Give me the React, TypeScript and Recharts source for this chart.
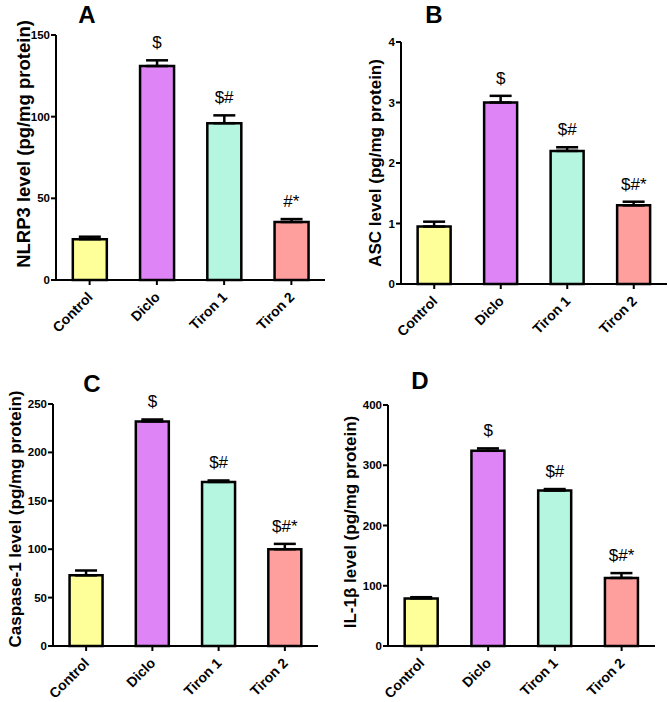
import {
  ComposedChart,
  Bar,
  Line,
  XAxis,
  YAxis,
  ErrorBar,
  Cell,
  LabelList,
} from "recharts";

const categories = ["Control", "Diclo", "Tiron 1", "Tiron 2"];
const barColors = ["#ffff99", "#df84f7", "#b4f6df", "#ff9f9d"];

const nlrp3Values = [25, 131, 96, 35.5];
const nlrp3Errors = [1.5, 3.5, 4.8, 1.8];
const nlrp3Notes = ["", "$", "$#", "#*"];
const nlrp3Ticks = [0, 50, 100, 150];

const ascValues = [0.95, 3.0, 2.2, 1.3];
const ascErrors = [0.08, 0.11, 0.06, 0.06];
const ascNotes = ["", "$", "$#", "$#*"];
const ascTicks = [0, 1, 2, 3, 4];

const caspaseValues = [73, 232, 169.5, 100];
const caspaseErrors = [5, 2, 1.5, 5.5];
const caspaseNotes = ["", "$", "$#", "$#*"];
const caspaseTicks = [0, 50, 100, 150, 200, 250];

const il1bValues = [79, 324, 258, 113];
const il1bErrors = [2, 4, 2.5, 8];
const il1bNotes = ["", "$", "$#", "$#*"];
const il1bTicks = [0, 100, 200, 300, 400];

const font = "Arial, 'Liberation Sans', sans-serif";

const buildRows = (values: number[], errors: number[], notes: string[]) =>
  categories.map((name, i) => ({
    name,
    value: values[i],
    err: [0, errors[i]],
    top: values[i] + errors[i],
    note: notes[i],
  }));

const XTick = (props: any) => {
  const { x, y, payload } = props;
  const tx = x + 4;
  const ty = y + 11;
  return (
    <text
      x={tx}
      y={ty}
      textAnchor="end"
      transform={`rotate(-45, ${tx}, ${ty})`}
      fontSize={14}
      fontWeight="bold"
      fontFamily={font}
      fill="#000"
    >
      {payload.value}
    </text>
  );
};

type PanelProps = {
  letter: string;
  title: string;
  left: number;
  top: number;
  width: number;
  height: number;
  marginTop: number;
  marginRight: number;
  yWidth: number;
  xHeight: number;
  ticks: number[];
  rows: ReturnType<typeof buildRows>;
  titleX: number;
  titleY: number;
  titleSize: number;
  letterX: number;
  letterY: number;
};

const Panel = (p: PanelProps) => {
  return (
    <div style={{ position: "absolute", left: p.left, top: p.top, width: p.width, height: p.height }}>
      <ComposedChart
        width={p.width}
        height={p.height}
        data={p.rows}
        margin={{ top: p.marginTop, right: p.marginRight, left: 0, bottom: 0 }}
        barCategoryGap="25%"
        style={{ overflow: "visible" }}
      >
        <XAxis
          dataKey="name"
          height={p.xHeight}
          interval={0}
          axisLine={{ stroke: "#000", strokeWidth: 2 }}
          tickLine={{ stroke: "#000", strokeWidth: 2 }}
          tickSize={5}
          tick={<XTick />}
        />
        <YAxis
          width={p.yWidth}
          domain={[0, p.ticks[p.ticks.length - 1]]}
          ticks={p.ticks}
          interval={0}
          axisLine={{ stroke: "#000", strokeWidth: 2 }}
          tickLine={{ stroke: "#000", strokeWidth: 2 }}
          tickSize={5}
          tickMargin={1}
          tick={{ fontSize: 11.5, fontWeight: "bold", fill: "#000", fontFamily: font }}
          label={{
            content: () => (
              <text
                x={p.titleX}
                y={p.titleY}
                textAnchor="middle"
                dominantBaseline="central"
                transform={`rotate(-90, ${p.titleX}, ${p.titleY})`}
                fontSize={p.titleSize}
                fontWeight="bold"
                fontFamily={font}
                fill="#000"
              >
                {p.title}
              </text>
            ),
          }}
        />
        <Bar dataKey="value" stroke="#000" strokeWidth={2.5} isAnimationActive={false}>
          {p.rows.map((r, i) => (
            <Cell key={r.name} fill={barColors[i]} />
          ))}
          <ErrorBar dataKey="err" direction="y" width={11} stroke="#000" strokeWidth={2.5} />
        </Bar>
        <Line
          dataKey="top"
          stroke="none"
          dot={false}
          activeDot={false}
          isAnimationActive={false}
        >
          <LabelList
            dataKey="note"
            content={(lp: any) => (
              <text
                x={lp.x}
                y={lp.y - 12}
                textAnchor="middle"
                fontSize={17}
                fontFamily={font}
                fill="#000"
              >
                {lp.value}
              </text>
            )}
          />
        </Line>
      </ComposedChart>
      <div
        style={{
          position: "absolute",
          left: p.letterX - 15,
          top: p.letterY - 22,
          width: 30,
          textAlign: "center",
          fontFamily: font,
          fontWeight: "bold",
          fontSize: 24,
          lineHeight: "24px",
        }}
      >
        {p.letter}
      </div>
    </div>
  );
};

export default function App() {
  return (
    <div style={{ position: "absolute", left: 0, top: 0, width: 669, height: 702, background: "#fff" }}>
      <Panel
        letter="A"
        title="NLRP3 level (pg/mg protein)"
        left={0}
        top={0}
        width={335}
        height={351}
        marginTop={35}
        marginRight={10}
        yWidth={56}
        xHeight={71}
        ticks={nlrp3Ticks}
        rows={buildRows(nlrp3Values, nlrp3Errors, nlrp3Notes)}
        titleX={23}
        titleY={144}
        titleSize={18.5}
        letterX={87}
        letterY={25}
      />
      <Panel
        letter="B"
        title="ASC level (pg/mg protein)"
        left={335}
        top={0}
        width={334}
        height={351}
        marginTop={42}
        marginRight={2}
        yWidth={66}
        xHeight={67}
        ticks={ascTicks}
        rows={buildRows(ascValues, ascErrors, ascNotes)}
        titleX={40}
        titleY={163}
        titleSize={17}
        letterX={99}
        letterY={25}
      />
      <Panel
        letter="C"
        title="Caspase-1 level (pg/mg protein)"
        left={0}
        top={351}
        width={335}
        height={351}
        marginTop={53}
        marginRight={17}
        yWidth={53}
        xHeight={56}
        ticks={caspaseTicks}
        rows={buildRows(caspaseValues, caspaseErrors, caspaseNotes)}
        titleX={15}
        titleY={168}
        titleSize={17}
        letterX={92}
        letterY={43}
      />
      <Panel
        letter="D"
        title="IL-1β level (pg/mg protein)"
        left={335}
        top={351}
        width={334}
        height={351}
        marginTop={54}
        marginRight={14}
        yWidth={53}
        xHeight={56}
        ticks={il1bTicks}
        rows={buildRows(il1bValues, il1bErrors, il1bNotes)}
        titleX={15}
        titleY={171}
        titleSize={17}
        letterX={85}
        letterY={40}
      />
    </div>
  );
}
